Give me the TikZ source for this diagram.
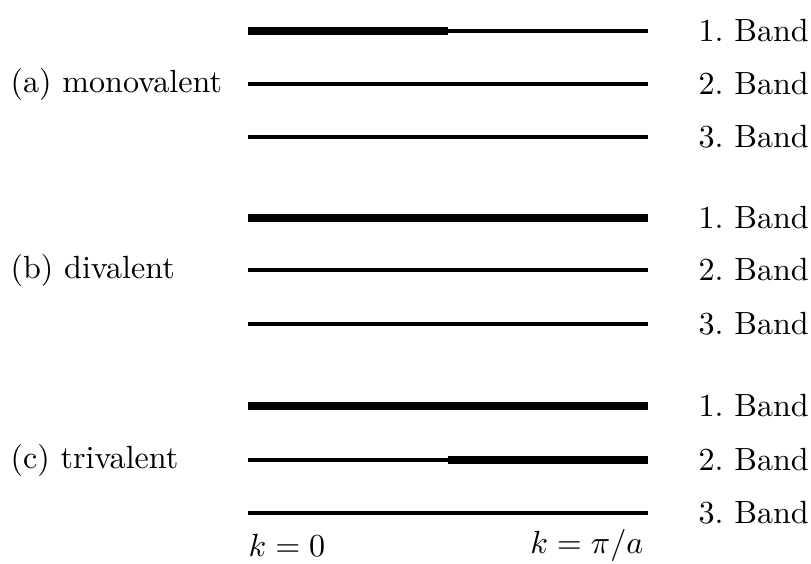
\documentclass[tikz,border=0pt]{standalone}
\usepackage{tikz}
\usetikzlibrary{positioning}

\begin{document}
\begin{tikzpicture}[
  x=0.3115pt,y=-0.3115pt,
  band/.style={line width=0.95pt,black},
  filled/.style={line width=2.5pt,black},
  bandlab/.style={anchor=west,inner sep=0pt},
  caselab/.style={anchor=west,inner sep=0pt}
]
  \useasboundingbox (0,0) rectangle (811,563);
  % (a) monovalent
  \coordinate (a1l) at (248,31);  \coordinate (a1m) at (448,31);  \coordinate (a1r) at (648,31);
  \coordinate (a2l) at (248,84);  \coordinate (a2r) at (648,84);
  \coordinate (a3l) at (248,137); \coordinate (a3r) at (648,137);
  \draw[filled] (a1l) -- (a1m);
  \draw[band] (a1m) -- (a1r);
  \draw[band] (a2l) -- (a2r);
  \draw[band] (a3l) -- (a3r);
  \node[caselab] (mono) at (10,84) {(a) monovalent};
  \node[bandlab] (a1) at (698,31) {1.\ Band};
  \node[bandlab] (a2) at (698,84) {2.\ Band};
  \node[bandlab] (a3) at (698,137) {3.\ Band};
  % (b) divalent
  \coordinate (b1l) at (248,218); \coordinate (b1r) at (648,218);
  \coordinate (b2l) at (248,270); \coordinate (b2r) at (648,270);
  \coordinate (b3l) at (248,324); \coordinate (b3r) at (648,324);
  \draw[filled] (b1l) -- (b1r);
  \draw[band] (b2l) -- (b2r);
  \draw[band] (b3l) -- (b3r);
  \node[caselab] (di) at (10,270) {(b) divalent};
  \node[bandlab] (b1) at (698,218) {1.\ Band};
  \node[bandlab] (b2) at (698,270) {2.\ Band};
  \node[bandlab] (b3) at (698,324) {3.\ Band};
  % (c) trivalent
  \coordinate (c1l) at (248,406); \coordinate (c1r) at (648,406);
  \coordinate (c2l) at (248,460); \coordinate (c2m) at (448,460); \coordinate (c2r) at (648,460);
  \coordinate (c3l) at (248,513); \coordinate (c3r) at (648,513);
  \draw[filled] (c1l) -- (c1r);
  \draw[band] (c2l) -- (c2m);
  \draw[filled] (c2m) -- (c2r);
  \draw[band] (c3l) -- (c3r);
  \node[caselab] (tri) at (10,460) {(c) trivalent};
  \node[bandlab] (c1) at (698,406) {1.\ Band};
  \node[bandlab] (c2) at (698,460) {2.\ Band};
  \node[bandlab] (c3) at (698,513) {3.\ Band};
  % k axis
  \node[anchor=west,inner sep=0pt] (k0) at (248,545) {$k=0$};
  \node[anchor=east,inner sep=0pt] (kpi) at (644,545) {$k=\pi/a$};
\end{tikzpicture}
\end{document}
